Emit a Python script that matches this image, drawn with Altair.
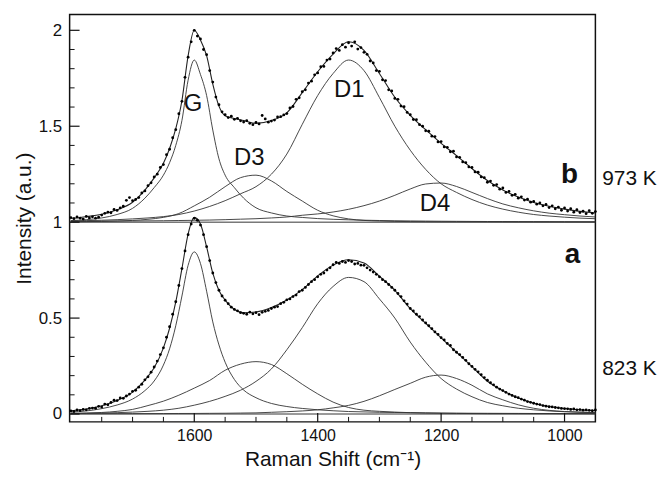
import altair as alt
import pandas as pd

# ---------------- data ----------------
# x grids (Raman shift, cm-1)
XF = [1800, 1775, 1750, 1725, 1700, 1680, 1665, 1650, 1640, 1630, 1620, 1610, 1600,
      1590, 1580, 1570, 1560, 1550, 1535, 1520, 1500, 1475, 1450, 1425, 1400, 1375,
      1350, 1325, 1300, 1275, 1250, 1225, 1200, 1175, 1150, 1125, 1100, 1075, 1050,
      1025, 1000, 975, 950]
X25 = list(range(1800, 949, -25))
XD = list(range(1800, 949, -5))

# spectrum a (823 K), baseline 0
G_A = [0.010, 0.016, 0.028, 0.047, 0.078, 0.122, 0.172, 0.255, 0.34, 0.46, 0.615, 0.775, 0.845,
       0.785, 0.64, 0.48, 0.36, 0.27, 0.18, 0.125, 0.085, 0.055, 0.039, 0.029, 0.022, 0.017,
       0.013, 0.011, 0.009, 0.008, 0.007, 0.006, 0.005, 0.0045, 0.004, 0.0037, 0.0034, 0.0031,
       0.0028, 0.0026, 0.0024, 0.0022, 0.002]
TOT_A = [0.017, 0.026, 0.043, 0.07, 0.114, 0.177, 0.241, 0.345, 0.447, 0.584, 0.758, 0.938, 1.025,
         0.99, 0.871, 0.734, 0.644, 0.594, 0.545, 0.528, 0.532, 0.555, 0.594, 0.648, 0.72, 0.776,
         0.804, 0.787, 0.718, 0.645, 0.549, 0.473, 0.397, 0.322, 0.247, 0.171, 0.122, 0.083,
         0.056, 0.039, 0.029, 0.0225, 0.018]
D3_A = [0.003, 0.005, 0.008, 0.014, 0.024, 0.044, 0.067, 0.098, 0.135, 0.175, 0.228, 0.26, 0.273,
        0.258, 0.21, 0.155, 0.105, 0.062, 0.034, 0.02, 0.014, 0.01, 0.007, 0.005, 0.004, 0.003,
        0.0025, 0.002, 0.002, 0.0018, 0.0016, 0.0015, 0.0014, 0.0013, 0.0012]
D1_A = [0.003, 0.004, 0.005, 0.007, 0.010, 0.014, 0.020, 0.030, 0.046, 0.066, 0.092, 0.124, 0.17,
        0.235, 0.335, 0.45, 0.575, 0.665, 0.712, 0.69, 0.60, 0.50, 0.375, 0.27, 0.185, 0.13,
        0.09, 0.06, 0.043, 0.03, 0.022, 0.016, 0.012, 0.010, 0.008]
D4_A = [0.0015, 0.0016, 0.0017, 0.0019, 0.002, 0.0023, 0.0025, 0.0027, 0.003, 0.0035, 0.004,
        0.005, 0.006, 0.009, 0.012, 0.016, 0.022, 0.032, 0.045, 0.066, 0.095, 0.128, 0.16, 0.192,
        0.203, 0.185, 0.15, 0.105, 0.074, 0.048, 0.03, 0.019, 0.013, 0.009, 0.007]
DOTS_A = [0.016, 0.013, 0.021, 0.018, 0.024, 0.022, 0.029, 0.031, 0.030, 0.040,
          0.036, 0.052, 0.048, 0.060, 0.072, 0.070, 0.084, 0.082, 0.094, 0.104,
          0.118, 0.124, 0.140, 0.155, 0.178, 0.194, 0.218, 0.245, 0.276, 0.31,
          0.345, 0.40, 0.455, 0.52, 0.585, 0.67, 0.758, 0.85, 0.935, 0.99,
          1.02, 1.01, 0.985, 0.935, 0.872, 0.80, 0.735, 0.685, 0.645, 0.615,
          0.593, 0.575, 0.557, 0.545, 0.538, 0.528, 0.525, 0.52, 0.531, 0.522,
          0.528, 0.518, 0.53, 0.535, 0.54, 0.55, 0.557, 0.56, 0.575, 0.582,
          0.595, 0.60, 0.612, 0.62, 0.638, 0.645, 0.66, 0.675, 0.69, 0.70,
          0.715, 0.728, 0.735, 0.75, 0.762, 0.778, 0.79, 0.785, 0.795, 0.79,
          0.80, 0.795, 0.782, 0.785, 0.776, 0.775, 0.762, 0.75, 0.74, 0.728,
          0.715, 0.70, 0.69, 0.675, 0.66, 0.645, 0.628, 0.612, 0.59, 0.573,
          0.55, 0.537, 0.52, 0.508, 0.49, 0.475, 0.46, 0.445, 0.428, 0.415,
          0.398, 0.386, 0.368, 0.357, 0.335, 0.322, 0.31, 0.295, 0.28, 0.262,
          0.248, 0.233, 0.22, 0.205, 0.19, 0.176, 0.163, 0.152, 0.14, 0.13,
          0.122, 0.113, 0.104, 0.097, 0.09, 0.085, 0.078, 0.072, 0.065, 0.061,
          0.056, 0.052, 0.049, 0.044, 0.041, 0.038, 0.037, 0.034, 0.032, 0.029,
          0.028, 0.027, 0.024, 0.026, 0.022, 0.023, 0.02, 0.022, 0.019, 0.017,
          0.021]

# spectrum b (973 K), baseline 1
G_B = [1.008, 1.013, 1.022, 1.04, 1.072, 1.125, 1.18, 1.245, 1.31, 1.40, 1.53, 1.74, 1.845,
       1.77, 1.66, 1.48, 1.33, 1.245, 1.18, 1.125, 1.075, 1.048, 1.032, 1.0245, 1.0186, 1.0149,
       1.0123, 1.0102, 1.0086, 1.0073, 1.0063, 1.0055, 1.0048, 1.0043, 1.0038, 1.0034, 1.0031,
       1.0028, 1.0026, 1.0024, 1.0022, 1.002, 1.0018]
TOT_B = [1.020, 1.0285, 1.041, 1.0645, 1.104, 1.167, 1.231, 1.307, 1.384, 1.487, 1.634, 1.867, 2.00,
         1.95, 1.868, 1.72, 1.605, 1.555, 1.54, 1.53, 1.515, 1.53, 1.57, 1.675, 1.784, 1.876,
         1.94, 1.895, 1.775, 1.651, 1.557, 1.482, 1.411, 1.347, 1.279, 1.217, 1.168, 1.131,
         1.103, 1.083, 1.068, 1.056, 1.048]
D3_B = [1.002, 1.003, 1.004, 1.006, 1.009, 1.015, 1.025, 1.045, 1.085, 1.13, 1.185, 1.232, 1.245,
        1.215, 1.16, 1.11, 1.062, 1.033, 1.017, 1.009, 1.006, 1.004, 1.003, 1.0025, 1.002, 1.002,
        1.0018, 1.0016, 1.0015, 1.0014, 1.0013, 1.0012, 1.0011, 1.001, 1.001]
D1_B = [1.006, 1.008, 1.01, 1.013, 1.017, 1.022, 1.029, 1.04, 1.058, 1.082, 1.112, 1.148, 1.185,
        1.25, 1.355, 1.51, 1.66, 1.775, 1.845, 1.79, 1.65, 1.50, 1.375, 1.275, 1.20, 1.155,
        1.118, 1.089, 1.068, 1.052, 1.04, 1.032, 1.026, 1.021, 1.018]
D4_B = [1.004, 1.0045, 1.005, 1.0055, 1.006, 1.0067, 1.0075, 1.0085, 1.0097, 1.011, 1.013, 1.0155,
        1.018, 1.022, 1.027, 1.036, 1.043, 1.053, 1.067, 1.086, 1.11, 1.14, 1.173, 1.199, 1.204,
        1.186, 1.155, 1.123, 1.095, 1.075, 1.059, 1.047, 1.039, 1.032, 1.027]
DOTS_B = [1.024, 1.018, 1.027, 1.021, 1.016, 1.030, 1.022, 1.028, 1.021, 1.026,
          1.037, 1.046, 1.052, 1.049, 1.066, 1.061, 1.074, 1.083, 1.114, 1.128,
          1.112, 1.118, 1.128, 1.152, 1.163, 1.19, 1.205, 1.236, 1.25, 1.285,
          1.30, 1.352, 1.38, 1.44, 1.482, 1.565, 1.63, 1.755, 1.86, 1.94,
          2.00, 1.97, 1.955, 1.90, 1.873, 1.79, 1.73, 1.652, 1.612, 1.575,
          1.56, 1.545, 1.552, 1.536, 1.541, 1.528, 1.522, 1.529, 1.515, 1.508,
          1.52, 1.512, 1.556, 1.538, 1.521, 1.527, 1.532, 1.548, 1.55, 1.559,
          1.566, 1.595, 1.603, 1.64, 1.648, 1.68, 1.69, 1.725, 1.735, 1.768,
          1.778, 1.81, 1.812, 1.845, 1.85, 1.882, 1.905, 1.895, 1.925, 1.912,
          1.935, 1.918, 1.94, 1.902, 1.91, 1.885, 1.875, 1.84, 1.83, 1.79,
          1.786, 1.742, 1.738, 1.69, 1.684, 1.645, 1.64, 1.605, 1.602, 1.572,
          1.56, 1.535, 1.534, 1.508, 1.50, 1.476, 1.474, 1.448, 1.446, 1.418,
          1.42, 1.392, 1.39, 1.367, 1.37, 1.34, 1.338, 1.314, 1.31, 1.288,
          1.285, 1.262, 1.26, 1.236, 1.232, 1.208, 1.214, 1.192, 1.196, 1.172,
          1.178, 1.155, 1.16, 1.14, 1.145, 1.125, 1.132, 1.115, 1.12, 1.104,
          1.108, 1.094, 1.1, 1.085, 1.092, 1.076, 1.085, 1.07, 1.078, 1.062,
          1.074, 1.058, 1.07, 1.052, 1.065, 1.05, 1.057, 1.044, 1.06, 1.046,
          1.055]

BASELINES = [0, 1]

# annotations
PEAK_LABELS = ["G", "D3", "D1", "D4"]
PEAK_X = [1602, 1511, 1349, 1210]
PEAK_Y = [1.615, 1.336, 1.69, 1.094]
SPEC_LABELS = ["b", "a"]
SPEC_X = [992, 987]
SPEC_Y = [1.202, 0.786]
TEMP_LABELS = ["973 K", "823 K"]
TEMP_X = [939, 939]
TEMP_Y = [1.195, 0.204]

X_MAJOR = [1600, 1400, 1200, 1000]
X_MINOR = [1750, 1700, 1650, 1550, 1500, 1450, 1350, 1300, 1250, 1150, 1100, 1050]
Y_MAJOR = [0, 0.5, 1, 1.5, 2]
Y_MINOR = [0.1, 0.2, 0.3, 0.4, 0.6, 0.7, 0.8, 0.9, 1.1, 1.2, 1.3, 1.4, 1.6, 1.7, 1.8, 1.9]

assert len(XD) == len(DOTS_A) == len(DOTS_B), (len(XD), len(DOTS_A), len(DOTS_B))
assert len(XF) == len(G_A) == len(TOT_A) == len(G_B) == len(TOT_B)
for arr in (D3_A, D1_A, D4_A, D3_B, D1_B, D4_B):
    assert len(arr) == len(X25), len(arr)

# ---------------- tables ----------------
comp_rows = []
for name, xs_, ys_ in [("aG", XF, G_A), ("aD3", X25, D3_A), ("aD1", X25, D1_A), ("aD4", X25, D4_A),
                       ("bG", XF, G_B), ("bD3", X25, D3_B), ("bD1", X25, D1_B), ("bD4", X25, D4_B)]:
    for x, y in zip(xs_, ys_):
        comp_rows.append({"x": x, "y": y, "s": name})
comp_df = pd.DataFrame(comp_rows)

tot_df = pd.DataFrame(
    [{"x": x, "y": y, "s": "a"} for x, y in zip(XF, TOT_A)]
    + [{"x": x, "y": y, "s": "b"} for x, y in zip(XF, TOT_B)]
)
dots_df = pd.DataFrame(
    [{"x": x, "y": y} for x, y in zip(XD, DOTS_A)]
    + [{"x": x, "y": y} for x, y in zip(XD, DOTS_B)]
)
base_df = pd.DataFrame({"y": BASELINES})
peak_df = pd.DataFrame({"x": PEAK_X, "y": PEAK_Y, "t": PEAK_LABELS})
spec_df = pd.DataFrame({"x": SPEC_X, "y": SPEC_Y, "t": SPEC_LABELS})
temp_df = pd.DataFrame({"x": TEMP_X, "y": TEMP_Y, "t": TEMP_LABELS})
xmaj_df = pd.DataFrame({"x": X_MAJOR})
xmin_df = pd.DataFrame({"x": X_MINOR})
ymaj_df = pd.DataFrame({"y": Y_MAJOR})
ymin_df = pd.DataFrame({"y": Y_MINOR})

# ---------------- chart ----------------
FONT = "Liberation Sans"
W, H = 529, 410
xs = alt.Scale(domain=[1802, 950], nice=False, zero=False)
ys = alt.Scale(domain=[-0.041, 2.083], nice=False, zero=False)

X_AX = alt.Axis(values=X_MAJOR, format="d", title="Raman Shift (cm⁻¹)", ticks=False, tickSize=0,
                domain=False, grid=False, labelFontSize=16, titleFontSize=21,
                titleFontWeight="normal", labelPadding=6, titleY=44,
                titleBaseline="alphabetic",
                labelFont=FONT, titleFont=FONT, labelColor="#111", titleColor="#111")
Y_AX = alt.Axis(values=Y_MAJOR, format="~g", title="Intensity (a.u.)", ticks=False, tickSize=0,
                domain=False, grid=False, labelFontSize=17, titleFontSize=21,
                titleFontWeight="normal", labelPadding=8, titlePadding=4,
                labelFont=FONT, titleFont=FONT, labelColor="#111", titleColor="#111")


def X(field="x"):
    return alt.X(f"{field}:Q", scale=xs, axis=X_AX)


def Y(field="y"):
    return alt.Y(f"{field}:Q", scale=ys, axis=Y_AX)


baselines = alt.Chart(base_df).mark_rule(color="#333", strokeWidth=1).encode(y=Y())

comps = alt.Chart(comp_df).mark_line(color="#333", strokeWidth=0.9, interpolate="monotone").encode(
    x=X(), y=Y(), detail="s:N")

totals = alt.Chart(tot_df).mark_line(color="#222", strokeWidth=1.1, interpolate="monotone").encode(
    x=X(), y=Y(), detail="s:N")

dots = alt.Chart(dots_df).mark_circle(size=8, color="#000", opacity=1).encode(x=X(), y=Y())

xmaj = alt.Chart(xmaj_df).mark_rule(color="#111", strokeWidth=1.2).encode(
    x=X(), y=alt.value(H), y2=alt.value(H - 9))
xmin = alt.Chart(xmin_df).mark_rule(color="#111", strokeWidth=1).encode(
    x=X(), y=alt.value(H), y2=alt.value(H - 5))
ymaj = alt.Chart(ymaj_df).mark_rule(color="#111", strokeWidth=1.2).encode(
    y=Y(), x=alt.value(0), x2=alt.value(10))
ymin = alt.Chart(ymin_df).mark_rule(color="#111", strokeWidth=1).encode(
    y=Y(), x=alt.value(0), x2=alt.value(5))

peaks = alt.Chart(peak_df).mark_text(font=FONT, fontSize=24, color="#111", align="center",
                                     baseline="middle").encode(x=X(), y=Y(), text="t:N")
specs = alt.Chart(spec_df).mark_text(font=FONT, fontSize=28, fontWeight="bold", color="#111",
                                     align="center", baseline="alphabetic").encode(
    x=X(), y=Y(), text="t:N")
temps = alt.Chart(temp_df).mark_text(font=FONT, fontSize=21, color="#111", align="left",
                                     baseline="alphabetic").encode(x=X(), y=Y(), text="t:N")

chart = alt.layer(
    baselines, comps, totals, dots, xmaj, xmin, ymaj, ymin, peaks, specs, temps
).properties(
    width=W, height=H,
    autosize=alt.AutoSizeParams(type="none"),
    padding={"left": 62, "top": 5, "right": 64, "bottom": 48},
    background="white",
).configure_view(stroke="#111", strokeWidth=1.5)

chart.save("out.html", embed_options={"renderer": "svg", "actions": False})
